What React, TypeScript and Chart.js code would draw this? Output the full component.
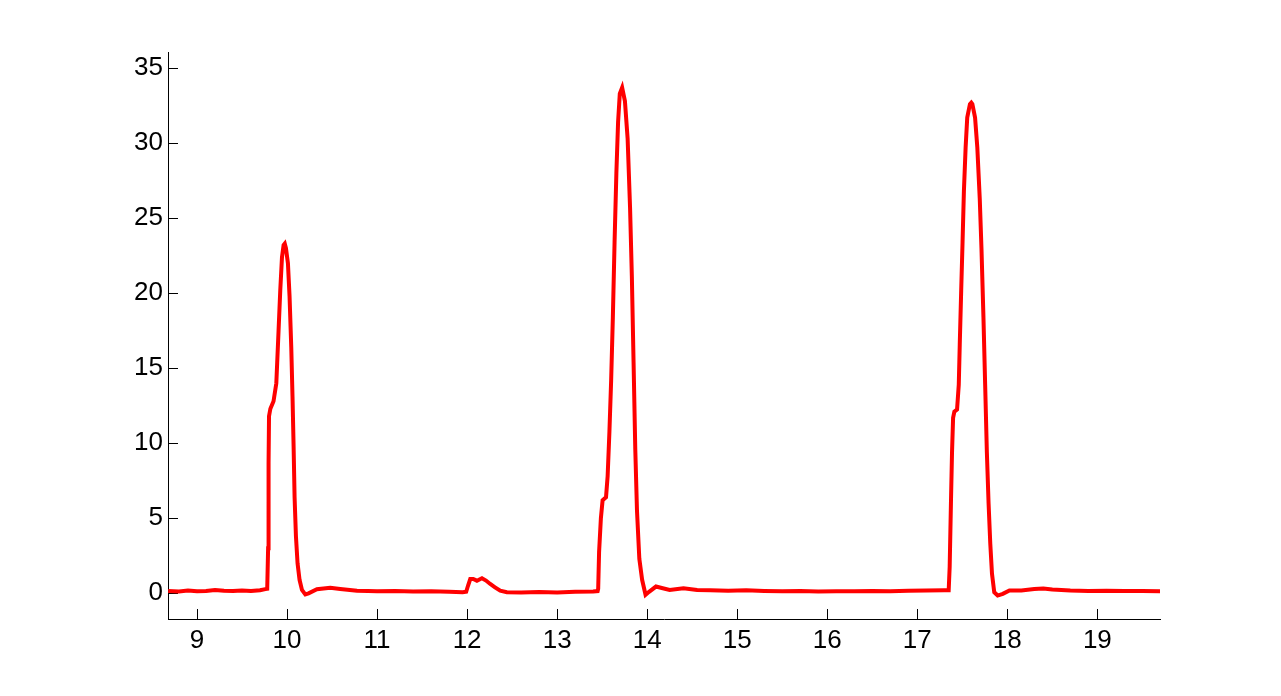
import React, { useEffect, useRef } from "react";
import { Chart, registerables } from "chart.js";

Chart.register(...registerables);

const times: number[] = [
  8.68, 8.8, 8.9, 9.0, 9.1, 9.2, 9.3, 9.4, 9.5, 9.6, 9.7, 9.76, 9.78,
  9.79, 9.795, 9.8, 9.815, 9.836, 9.85, 9.881, 9.906, 9.925, 9.944, 9.962, 9.975, 9.988,
  10.01, 10.028, 10.047, 10.061, 10.073, 10.084, 10.099, 10.117, 10.139, 10.166, 10.203,
  10.239, 10.332, 10.48, 10.591, 10.777,
  10.9, 11.0, 11.2, 11.4, 11.6, 11.8, 11.95, 11.99,
  12.01, 12.035, 12.068, 12.109, 12.165, 12.21, 12.257, 12.31, 12.368, 12.442,
  12.6, 12.8, 13.0, 13.2, 13.4, 13.45,
  13.456, 13.466, 13.486, 13.505, 13.543, 13.561, 13.581, 13.6, 13.619, 13.638, 13.658,
  13.677, 13.696, 13.722, 13.753, 13.783, 13.81, 13.83, 13.849, 13.868, 13.887, 13.913,
  13.944, 13.982, 14.021, 14.098, 14.173, 14.25, 14.403, 14.555,
  14.7, 14.9, 15.1, 15.3, 15.5, 15.7, 15.9, 16.1, 16.3, 16.5, 16.7, 16.9, 17.1, 17.3, 17.349,
  17.36, 17.375, 17.386, 17.398, 17.412, 17.442, 17.461, 17.472, 17.488, 17.503, 17.518,
  17.537, 17.555, 17.585, 17.6, 17.612, 17.642, 17.667, 17.694, 17.713, 17.735, 17.754,
  17.773, 17.792, 17.811, 17.83, 17.855, 17.893, 17.95, 18.024, 18.156,
  18.3, 18.4, 18.5, 18.7, 18.9, 19.1, 19.3, 19.5, 19.7,
];

const signal: number[] = [
  0.15, 0.12, 0.18, 0.14, 0.16, 0.22, 0.17, 0.15, 0.19, 0.16, 0.2, 0.28, 0.3,
  3.0, 8.7, 11.8, 12.3, 12.6, 12.8, 14.0, 17.5, 20.2, 22.4, 23.2, 23.3, 23.0,
  22.0, 19.8, 16.4, 13.1, 9.8, 6.4, 3.8, 2.0, 0.9, 0.22, -0.07,
  0.0, 0.27, 0.37, 0.29, 0.17,
  0.15, 0.13, 0.16, 0.12, 0.14, 0.1, 0.07, 0.1,
  0.5, 0.95, 0.95, 0.84, 1.0, 0.85, 0.62, 0.4, 0.17, 0.07,
  0.05, 0.08, 0.06, 0.1, 0.12, 0.15,
  0.3, 2.75, 5.0, 6.2, 6.4, 7.8, 10.8, 14.2, 18.4, 23.4, 28.0,
  31.4, 33.3, 33.7, 32.8, 30.3, 25.7, 21.1, 15.4, 9.6, 5.5, 2.3,
  0.9, -0.1, 0.1, 0.45, 0.34, 0.22, 0.34, 0.22,
  0.2, 0.17, 0.2, 0.16, 0.14, 0.15, 0.12, 0.14, 0.13, 0.15, 0.14, 0.17, 0.18, 0.2, 0.2,
  1.77, 6.3, 9.4, 11.7, 12.1, 12.25, 13.9, 16.6, 20.2, 23.4, 26.8,
  29.7, 31.7, 32.6, 32.7, 32.6, 31.7, 29.7, 26.3, 23.0, 18.4, 13.9,
  9.4, 6.0, 3.3, 1.3, 0.07, -0.15, -0.04, 0.19, 0.19,
  0.28, 0.32, 0.25, 0.18, 0.16, 0.17, 0.15, 0.16, 0.14,
];

const xTicks: number[] = [9, 10, 11, 12, 13, 14, 15, 16, 17, 18, 19];
const yTicks: number[] = [0, 5, 10, 15, 20, 25, 30, 35];

const FONT = { family: "'Liberation Sans', Arial, Helvetica, sans-serif", size: 26 };

const innerTicks = {
  id: "innerTicks",
  beforeDatasetsDraw(chart: any) {
    const { ctx, chartArea, scales } = chart;
    ctx.save();
    ctx.strokeStyle = "#000";
    ctx.lineWidth = 1;
    ctx.beginPath();
    for (const v of yTicks) {
      const y = Math.round(scales.y.getPixelForValue(v)) + 0.5;
      ctx.moveTo(chartArea.left, y);
      ctx.lineTo(chartArea.left + 10, y);
    }
    for (const v of xTicks) {
      const x = Math.round(scales.x.getPixelForValue(v)) + 0.5;
      ctx.moveTo(x, chartArea.bottom);
      ctx.lineTo(x, chartArea.bottom - 10);
    }
    ctx.stroke();
    ctx.restore();
  },
};

export default function App() {
  const ref = useRef<HTMLCanvasElement | null>(null);

  useEffect(() => {
    if (!ref.current) return;
    const chart = new Chart(ref.current, {
      type: "line",
      data: {
        datasets: [
          {
            data: times.map((t, i) => ({ x: t, y: signal[i] })),
            borderColor: "#ff0000",
            borderWidth: 4,
            pointRadius: 0,
            tension: 0,
            fill: false,
          },
        ],
      },
      options: {
        responsive: false,
        animation: false,
        events: [],
        layout: { padding: { left: 0, right: 121, top: 52, bottom: 0 } },
        plugins: { legend: { display: false }, tooltip: { enabled: false } },
        scales: {
          x: {
            type: "linear",
            min: 8.678,
            max: 19.696,
            afterBuildTicks: (s: any) => {
              s.ticks = xTicks.map((v) => ({ value: v }));
            },
            afterFit: (s: any) => {
              s.height = 77;
            },
            grid: { display: true, drawOnChartArea: false, drawTicks: false },
            border: { display: true, color: "#000", width: 1 },
            ticks: { color: "#000", font: FONT, padding: 6, maxRotation: 0, autoSkip: false },
          },
          y: {
            type: "linear",
            min: -1.713,
            max: 36.07,
            afterBuildTicks: (s: any) => {
              s.ticks = yTicks.map((v) => ({ value: v }));
            },
            afterFit: (s: any) => {
              s.width = 168;
            },
            grid: { display: true, drawOnChartArea: false, drawTicks: false },
            border: { display: true, color: "#000", width: 1 },
            ticks: { color: "#000", font: FONT, padding: 5, autoSkip: false },
          },
        },
      },
      plugins: [innerTicks],
    });
    return () => chart.destroy();
  }, []);

  return (
    <div style={{ position: "fixed", left: 0, top: 0, width: 1281, height: 696, background: "#fff" }}>
      <canvas ref={ref} width={1281} height={696} style={{ display: "block" }} />
    </div>
  );
}
